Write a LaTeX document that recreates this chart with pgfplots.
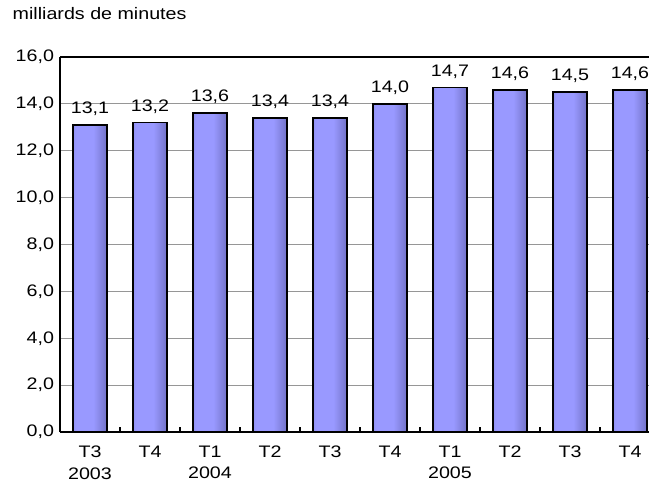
\documentclass[border=0pt]{standalone}
\usepackage{pgfplots}
\pgfplotsset{compat=1.18}
\usepackage{fontspec}
\setmainfont[FakeStretch=1.18]{Liberation Sans}

\definecolor{barlight}{RGB}{153,153,255}
\definecolor{barleft}{RGB}{95,95,170}
\definecolor{barright}{RGB}{55,55,105}
\definecolor{gridgray}{RGB}{150,150,150}
\pgfdeclarehorizontalshading{barshade}{100bp}{color(0bp)=(barleft); color(10bp)=(barleft!50!barlight); color(30bp)=(barlight); color(55bp)=(barlight); color(85bp)=(barleft); color(100bp)=(barright)}

\pgfplotsset{onebar/.style={ybar, bar width=25.5pt, bar shift=0pt, draw=black, line width=1.2pt, shading=barshade}}

\begin{document}
\begin{tikzpicture}
\node[anchor=west, font=\fontsize{12.5}{15}\selectfont] at (6pt,-10.5pt) {milliards de minutes};
\begin{axis}[
  at={(45pt,-42.75pt)}, anchor=north west,
  width=450pt, height=281.25pt, scale only axis,
  axis x line*=bottom, axis y line*=left,
  ymin=0, ymax=16, ytick={0,2,...,16},
  xmin=-0.5, xmax=9.5,
  xtick={0,...,9},
  xticklabels={{T3\\2003},T4,{T1\\2004},T2,T3,T4,{T1\\2005},T2,T3,T4},
  minor xtick={0.5,1.5,...,8.5},
  major tick length=0pt, minor tick length=4pt,
  minor tick style={black, line width=0.8pt},
  xticklabel style={align=center, yshift=-7pt},
  yticklabel style={xshift=-1pt},
  tick label style={font=\fontsize{12.5}{16}\selectfont},
  /pgf/number format/use comma,
  /pgf/number format/fixed,
  /pgf/number format/fixed zerofill,
  /pgf/number format/precision=1,
  /pgf/number format/assume math mode=true,
  ymajorgrids,
  grid style={gridgray, line width=0.6pt},
  axis line style={black, line width=1.5pt, -},
  nodes near coords,
  nodes near coords style={font=\fontsize{12.5}{15}\selectfont, anchor=south, yshift=3pt},
  clip=false,
]
\addplot[onebar] coordinates {(0,13.1)};
\addplot[onebar] coordinates {(1,13.2)};
\addplot[onebar] coordinates {(2,13.6)};
\addplot[onebar] coordinates {(3,13.4)};
\addplot[onebar] coordinates {(4,13.4)};
\addplot[onebar] coordinates {(5,14.0)};
\addplot[onebar] coordinates {(6,14.7)};
\addplot[onebar] coordinates {(7,14.6)};
\addplot[onebar] coordinates {(8,14.5)};
\addplot[onebar] coordinates {(9,14.6)};
\draw[black, line width=1.5pt] (rel axis cs:0,1) -- (rel axis cs:1,1);
\end{axis}
\pgfresetboundingbox
\useasboundingbox (0,0) rectangle (486.75pt,-365.25pt);
\end{tikzpicture}
\end{document}
